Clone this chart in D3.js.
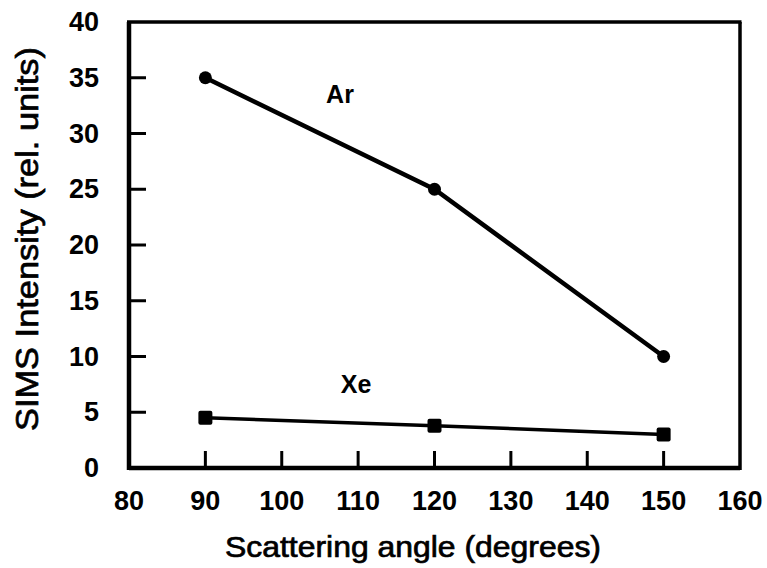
<!DOCTYPE html>
<html>
<head>
<meta charset="utf-8">
<script src="https://cdn.jsdelivr.net/npm/d3@7"></script>
<style>
  body { margin: 0; background: #fff; }
  text { font-family: "Liberation Sans", Arial, sans-serif; fill: #000; }
</style>
</head>
<body>
<svg id="chart" width="767" height="568"></svg>
<script>
// values
const angles = [90, 120, 150];
const arValues = [35, 25, 10];
const xeValues = [4.5, 3.8, 3.0];
const xTicks = [80, 90, 100, 110, 120, 130, 140, 150, 160];
const yTicks = [0, 5, 10, 15, 20, 25, 30, 35, 40];

const svg = d3.select("#chart");
const margin = {left: 129, right: 27, top: 22, bottom: 100};
const W = 767, H = 568;

const x = d3.scaleLinear().domain([80, 160]).range([margin.left, W - margin.right]);
const y = d3.scaleLinear().domain([0, 40]).range([H - margin.bottom, margin.top]);

// frame: left and bottom heavy, top and right lighter
svg.append("line").attr("x1", x(80)).attr("x2", x(80)).attr("y1", y(0) + 2).attr("y2", y(40))
  .attr("stroke", "#000").attr("stroke-width", 4.5);
svg.append("line").attr("x1", x(80)).attr("x2", x(160)).attr("y1", y(0)).attr("y2", y(0))
  .attr("stroke", "#000").attr("stroke-width", 4.5);
svg.append("line").attr("x1", x(80) - 2).attr("x2", x(160) + 1.5).attr("y1", y(40)).attr("y2", y(40))
  .attr("stroke", "#000").attr("stroke-width", 3.5);
svg.append("line").attr("x1", x(160)).attr("x2", x(160)).attr("y1", y(40)).attr("y2", y(0) + 2)
  .attr("stroke", "#000").attr("stroke-width", 3.5);

// inward ticks
svg.selectAll(".xt").data(xTicks.filter(d => d > 80 && d < 160)).join("line")
  .attr("x1", d => x(d)).attr("x2", d => x(d))
  .attr("y1", y(0)).attr("y2", y(0) - 17)
  .attr("stroke", "#000").attr("stroke-width", 3);
svg.selectAll(".yt").data(yTicks.filter(d => d > 0 && d < 40)).join("line")
  .attr("x1", x(80)).attr("x2", x(80) + 17)
  .attr("y1", d => y(d)).attr("y2", d => y(d))
  .attr("stroke", "#000").attr("stroke-width", 3);

// tick labels
svg.selectAll(".xl").data(xTicks).join("text")
  .attr("x", d => x(d)).attr("y", 510)
  .attr("text-anchor", "middle")
  .style("font-size", "27px").style("font-weight", "bold")
  .text(d => d);
svg.selectAll(".yl").data(yTicks).join("text")
  .attr("x", 99).attr("y", d => y(d) + 9)
  .attr("text-anchor", "end")
  .style("font-size", "27px").style("font-weight", "bold")
  .text(d => d);

// axis titles (the scan has wide glyphs, so stretch to the measured length)
svg.append("text").attr("x", 413).attr("y", 557)
  .attr("text-anchor", "middle")
  .attr("textLength", 376).attr("lengthAdjust", "spacingAndGlyphs")
  .style("font-size", "29px")
  .style("stroke", "#000").style("stroke-width", 0.7)
  .text("Scattering angle (degrees)");
svg.append("text")
  .attr("transform", `translate(38, 239) rotate(-90)`)
  .attr("text-anchor", "middle")
  .attr("textLength", 384).attr("lengthAdjust", "spacingAndGlyphs")
  .style("font-size", "31px")
  .style("stroke", "#000").style("stroke-width", 0.7)
  .text("SIMS Intensity (rel. units)");

// series lines
const line = d3.line().x(d => x(d[0])).y(d => y(d[1]));
const arPts = angles.map((a, i) => [a, arValues[i]]);
const xePts = angles.map((a, i) => [a, xeValues[i]]);

svg.append("path").datum(arPts).attr("d", line)
  .attr("fill", "none").attr("stroke", "#000").attr("stroke-width", 4.5);
svg.append("path").datum(xePts).attr("d", line)
  .attr("fill", "none").attr("stroke", "#000").attr("stroke-width", 3.5);

svg.selectAll(".ar").data(arPts).join("circle")
  .attr("cx", d => x(d[0])).attr("cy", d => y(d[1])).attr("r", 6.5)
  .attr("fill", "#000");
svg.selectAll(".xe").data(xePts).join("rect")
  .attr("x", d => x(d[0]) - 7).attr("y", d => y(d[1]) - 7)
  .attr("width", 14).attr("height", 14).attr("rx", 2)
  .attr("fill", "#000");

// series labels
svg.append("text").attr("x", 340).attr("y", 103)
  .attr("text-anchor", "middle")
  .style("font-size", "25px").style("font-weight", "bold")
  .text("Ar");
svg.append("text").attr("x", 356).attr("y", 393)
  .attr("text-anchor", "middle")
  .style("font-size", "25px").style("font-weight", "bold")
  .text("Xe");
</script>
</body>
</html>
